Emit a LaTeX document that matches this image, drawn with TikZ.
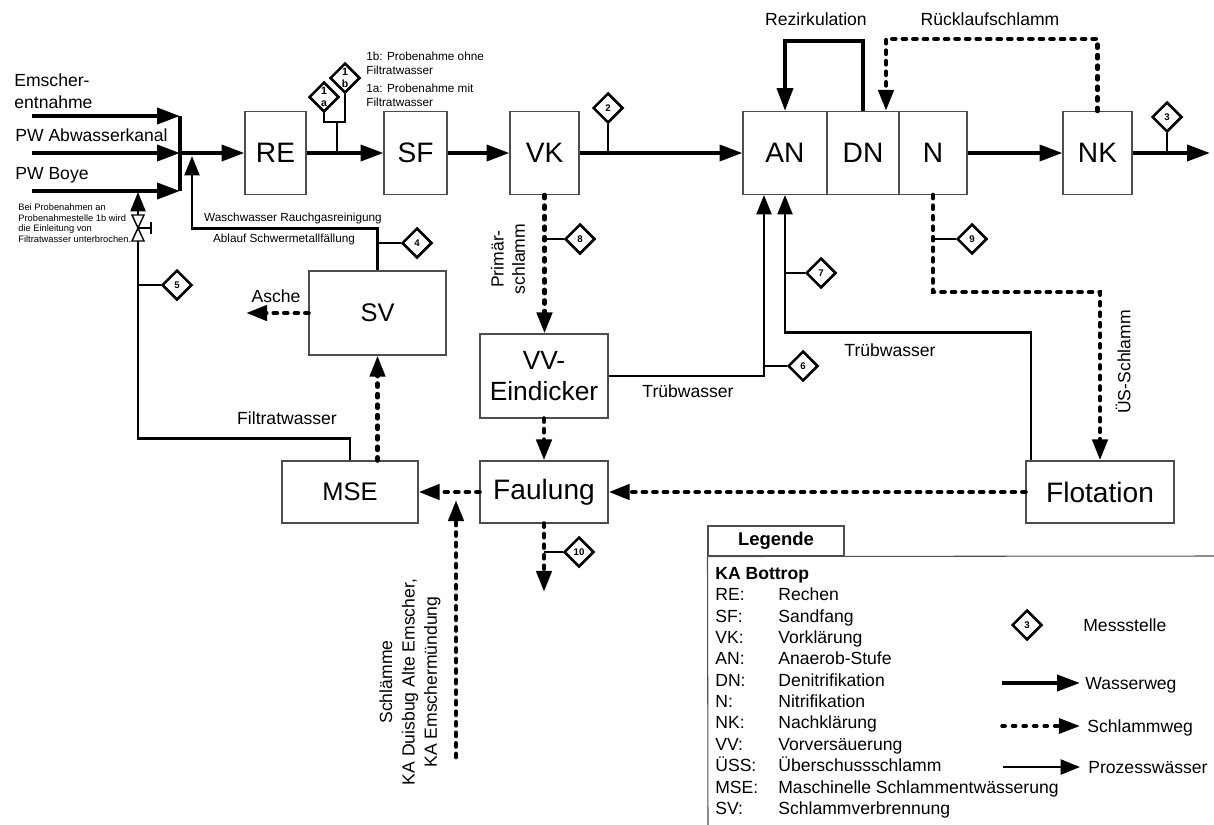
\documentclass[tikz,border=0pt]{standalone}
\usepackage{fontspec}
\setmainfont{Liberation Sans}
\usepackage{tikz}
\usetikzlibrary{arrows.meta, positioning, calc, shapes.geometric}
\definecolor{boxgray}{HTML}{4D4D4D}
\tikzset{
  unitnode/.style={draw=boxgray,line width=0.6pt,minimum width=1.3cm,minimum height=1.66cm,inner sep=0pt,font=\fontsize{16}{18}\selectfont},
  msnode/.style={diamond,draw=black,line width=1.5pt,fill=white,minimum size=17pt,inner sep=0pt,font=\fontsize{5.5}{6}\selectfont\bfseries},
  lbl/.style={inner sep=0pt,font=\fontsize{10}{12}\selectfont},
  smalllbl/.style={inner sep=0pt,font=\fontsize{6.7}{7.9}\selectfont},
  legtxt/.style={anchor=base west,inner sep=0pt,font=\fontsize{10}{12}\selectfont},
  wateredge/.style={-{Triangle[length=13pt,width=9pt]},line width=2.3pt},
  sludgeedge/.style={-{Triangle[length=12pt,width=8.5pt]},line width=2.6pt,line cap=round,dash pattern=on 1.8pt off 4.2pt},
  procedge/.style={-{Triangle[length=11pt,width=8.5pt]},line width=1.4pt},
  msedge/.style={line width=1.4pt},
  valvepart/.style={draw=black,line width=0.8pt,fill=white},
}

\begin{document}
\begin{tikzpicture}[x=0.02cm,y=-0.02cm]
  \useasboundingbox (0,0) rectangle (1214,825);
  % Wasserstrasse
  \node[unitnode,minimum width=1.22cm] (re) at (275.5,153) {RE};
  \node[unitnode,minimum width=1.26cm] (sf) at (415.5,153) {SF};
  \node[unitnode,minimum width=1.38cm] (vk) at (544.5,153) {VK};
  \node[unitnode,minimum width=1.68cm] (an) at (785,153) {AN};
  \node[unitnode,minimum width=1.44cm] (dn) at (863,153) {DN};
  \node[unitnode,minimum width=1.36cm] (ni) at (933,153) {N};
  \node[unitnode,minimum width=1.38cm] (nk) at (1097.5,153) {NK};
  % Schlammstrasse
  \node[unitnode,minimum width=2.74cm,minimum height=1.68cm,font=\fontsize{14.5}{16}\selectfont] (sv) at (377.5,313) {SV};
  \node[unitnode,minimum width=2.56cm,minimum height=1.68cm,align=center,font=\fontsize{15}{18}\selectfont] (vv) at (544,376) {VV-\\Eindicker};
  \node[unitnode,minimum width=2.72cm,minimum height=1.24cm,font=\fontsize{14.5}{16}\selectfont] (mse) at (350,492) {MSE};
  \node[unitnode,minimum width=2.56cm,minimum height=1.24cm] (faul) at (544,492) {Faulung};
  \node[unitnode,minimum width=2.96cm,minimum height=1.24cm] (flot) at (1100,492) {Flotation};

  % Zulaeufe
  \coordinate (sammel) at (180,153);
  \coordinate (in1) at (32,116);
  \coordinate (in2) at (32,153);
  \coordinate (in3) at (32,191);
  \node[lbl,anchor=west,align=left,font=\fontsize{10}{12.5}\selectfont] (lbin1) at (14,91) {Emscher-\\entnahme};
  \node[lbl,anchor=west] (lbin2) at (15,135) {PW Abwasserkanal};
  \node[lbl,anchor=west] (lbin3) at (15,175) {PW Boye};
  \draw[wateredge] (in1) -- (in1 -| sammel);
  \draw[wateredge] (in2) -- (sammel);
  \draw[wateredge] (in3) -- (in3 -| sammel);
  \draw[line width=2.3pt] (in1 -| sammel) -- (in3 -| sammel);
  \draw[wateredge] (sammel) -- (re);
  \draw[wateredge] (re) -- (sf);
  \draw[wateredge] (sf) -- (vk);
  \draw[wateredge] (vk) -- (an);
  \draw[wateredge] (ni) -- (nk);
  \coordinate (ablauf) at (1210,153);
  \draw[wateredge] (nk) -- (ablauf);
  \draw[wateredge] (dn.north) -- ++(0,-70) -| (an.north);
  \draw[sludgeedge] (nk.north) -- ++(0,-72) -| ($(dn.north)+(23,0)$);
  \node[lbl] (lbrez) at (816,19) {Rezirkulation};
  \node[lbl] (lbrueck) at (990,19) {Rücklaufschlamm};

  % Messstellen Wasserweg
  \node[msnode,align=center,font=\fontsize{6}{6.5}\selectfont\bfseries] (m1a) at (324,97) {1\\a};
  \node[msnode,align=center,font=\fontsize{6}{6.5}\selectfont\bfseries] (m1b) at (345,78) {1\\b};
  \coordinate (abzw1) at (337,122);
  \draw[msedge] (m1a.south) |- (abzw1) -| (m1b.south);
  \draw[msedge] (abzw1) -- (abzw1 |- re.east);
  \node[smalllbl,anchor=west,align=left] (lb1b) at (366,63) {1b: Probenahme ohne\\Filtratwasser};
  \node[smalllbl,anchor=west,align=left] (lb1a) at (366,95) {1a: Probenahme mit\\Filtratwasser};
  \node[msnode] (m2) at (608,108) {2};
  \draw[msedge] (m2.south) -- (m2.south |- vk.east);
  \node[msnode] (m3) at (1167,117) {3};
  \draw[msedge] (m3.south) -- (m3.south |- nk.east);

  % Prozesswaesser
  \coordinate (waschein) at (192,156);
  \draw[procedge] (sv.north) -- ++(0,-42) -| (waschein);
  \node[smalllbl] (lbwasch) at (293,218) {Waschwasser Rauchgasreinigung};
  \node[smalllbl] (lbablauf) at (284,239) {Ablauf Schwermetallfällung};
  \node[msnode] (m4) at (417,243) {4};
  \draw[msedge] (sv.north |- m4) -- (m4);
  \coordinate (boyeein) at (138,192);
  \draw[procedge] (mse.north) -- ++(0,-22) -| (boyeein);
  \node[lbl] (lbfiltrat) at (287,418) {Filtratwasser};
  \node[msnode] (m5) at (177,285) {5};
  \draw[msedge] (boyeein |- m5) -- (m5);
  \coordinate (ventil) at (138,228);
  \draw[valvepart] (ventil) -- ++(-6,-13) -- ++(12,0) -- cycle;
  \draw[valvepart] (ventil) -- ++(-6,13) -- ++(12,0) -- cycle;
  \draw[line width=0.8pt] (ventil) -- ++(13,0) ++(0,-6) -- ++(0,12);
  \node[anchor=west,align=left,inner sep=0pt,font=\fontsize{5.3}{6.05}\selectfont] (hinweis) at (18,223) {Bei Probenahmen an\\Probenahmestelle 1b wird\\die Einleitung von\\Filtratwasser unterbrochen.};
  \coordinate (anin1) at ($(an.south)+(-21,0)$);
  \draw[procedge] (vv.east) -| (anin1);
  \node[msnode] (m6) at (803,366) {6};
  \draw[msedge] (anin1 |- m6) -- (m6);
  \node[lbl] (lbtrueb1) at (688,391) {Trübwasser};
  \coordinate (flotab) at ($(flot.north)+(-69,0)$);
  \draw[procedge] (flotab) -- ++(0,-128) -| (an.south);
  \node[msnode] (m7) at (821,273) {7};
  \draw[msedge] (an.south |- m7) -- (m7);
  \node[lbl] (lbtrueb2) at (890,350) {Trübwasser};

  % Schlammwege
  \draw[sludgeedge] (vk.south) -- (vk.south |- vv.north);
  \node[msnode] (m8) at (580,239) {8};
  \draw[msedge] (vk.south |- m8) -- (m8);
  \node[lbl,rotate=90,align=center] (lbprim) at (508,259) {Primär-\\schlamm};
  \draw[sludgeedge] (vv.south) -- (faul.north);
  \draw[sludgeedge] (faul.west) -- (mse.east);
  \draw[sludgeedge] (flot.west) -- (faul.east);
  \coordinate (faulab) at (544,592);
  \draw[sludgeedge] (faul.south) -- (faulab);
  \node[msnode] (m10) at (579,552) {10};
  \draw[msedge] (faul.south |- m10) -- (m10);
  \draw[sludgeedge] (sv.south |- mse.north) -- (sv.south);
  \coordinate (asche) at (246,313);
  \draw[sludgeedge] (sv.west) -- (asche);
  \node[lbl] (lbasche) at (276,296) {Asche};
  \draw[sludgeedge] (ni.south) -- ++(0,97) -| (flot.north);
  \node[msnode] (m9) at (972,239) {9};
  \draw[msedge] (ni.south |- m9) -- (m9);
  \node[lbl,rotate=90] (lbues) at (1123,362) {ÜS-Schlamm};
  \coordinate (fremdab) at (456,757);
  \coordinate (fremdein) at (456,500);
  \draw[sludgeedge] (fremdab) -- (fremdein);
  \node[lbl,rotate=90,align=center,font=\fontsize{10}{12.7}\selectfont] (lbfremd) at (410,682) {Schlämme\\KA Duisbug Alte Emscher,\\KA Emschermündung};

  % Legende
  \node[draw=boxgray,line width=0.6pt,minimum width=2.72cm,minimum height=0.6cm,inner sep=0pt,font=\fontsize{10.5}{12}\selectfont\bfseries] (legtab) at (776,541) {Legende};
  \coordinate (legrand) at (1214,556);
  \coordinate (legfuss) at (708,825);
  \draw[line width=0.6pt,boxgray] (legtab.south west) -- (legrand);
  \draw[line width=0.6pt,boxgray] (legtab.south west) -- (legfuss);
  \node[legtxt,font=\fontsize{10}{12}\selectfont\bfseries] (lgka) at (715,579) {KA Bottrop};
  \node[legtxt] (lgre) at (715,600) {RE:};
  \node[legtxt] (lgret) at (778,600) {Rechen};
  \node[legtxt] (lgsf) at (715,622) {SF:};
  \node[legtxt] (lgsft) at (778,622) {Sandfang};
  \node[legtxt] (lgvk) at (715,643) {VK:};
  \node[legtxt] (lgvkt) at (778,643) {Vorklärung};
  \node[legtxt] (lgan) at (715,664) {AN:};
  \node[legtxt] (lgant) at (778,664) {Anaerob-Stufe};
  \node[legtxt] (lgdn) at (715,686) {DN:};
  \node[legtxt] (lgdnt) at (778,686) {Denitrifikation};
  \node[legtxt] (lgn) at (715,707) {N:};
  \node[legtxt] (lgnt) at (778,707) {Nitrifikation};
  \node[legtxt] (lgnk) at (715,728) {NK:};
  \node[legtxt] (lgnkt) at (778,728) {Nachklärung};
  \node[legtxt] (lgvv) at (715,750) {VV:};
  \node[legtxt] (lgvvt) at (778,750) {Vorversäuerung};
  \node[legtxt] (lguess) at (715,771) {ÜSS:};
  \node[legtxt] (lguesst) at (778,771) {Überschussschlamm};
  \node[legtxt] (lgmse) at (715,793) {MSE:};
  \node[legtxt] (lgmset) at (778,793) {Maschinelle Schlammentwässerung};
  \node[legtxt] (lgsv) at (715,814) {SV:};
  \node[legtxt] (lgsvt) at (778,814) {Schlammverbrennung};
  \node[msnode] (lgms) at (1027,625) {3};
  \node[legtxt] (lgmst) at (1083,631) {Messstelle};
  \coordinate (lgw1) at (1002,683);
  \coordinate (lgw2) at (1080,683);
  \draw[wateredge] (lgw1) -- (lgw2);
  \node[legtxt] (lgwt) at (1085,689) {Wasserweg};
  \coordinate (lgs1) at (1002,726);
  \coordinate (lgs2) at (1080,726);
  \draw[sludgeedge,line width=2pt] (lgs1) -- (lgs2);
  \node[legtxt] (lgst) at (1087,732) {Schlammweg};
  \coordinate (lgp1) at (1003,767);
  \coordinate (lgp2) at (1080,767);
  \draw[procedge] (lgp1) -- (lgp2);
  \node[legtxt] (lgpt) at (1088,773) {Prozesswässer};
\end{tikzpicture}
\end{document}
